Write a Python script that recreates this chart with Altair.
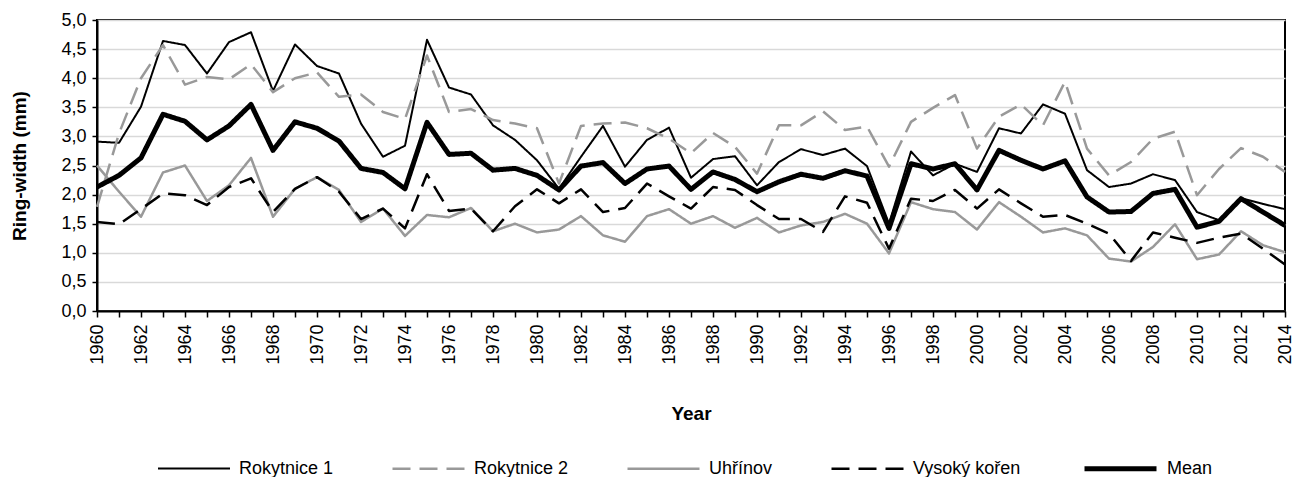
import altair as alt
import pandas as pd

years = list(range(1960, 2015))

rokytnice1 = [2.91, 2.89, 3.51, 4.64, 4.57, 4.08, 4.62, 4.79,
              3.78, 4.58, 4.21, 4.08, 3.22, 2.65, 2.84, 4.66,
              3.84, 3.72, 3.19, 2.94, 2.59, 2.10, 2.65, 3.18,
              2.48, 2.94, 3.15, 2.29, 2.61, 2.66, 2.16, 2.56,
              2.78, 2.68, 2.79, 2.49, 1.50, 2.74, 2.33, 2.53,
              2.39, 3.14, 3.05, 3.55, 3.39, 2.42, 2.13,
              2.19, 2.35, 2.25, 1.70, 1.56, 1.94, 1.84, 1.75]

rokytnice2 = [1.79, 3.05, 4.00, 4.57, 3.89, 4.02, 3.98, 4.24,
              3.76, 4.00, 4.10, 3.68, 3.72, 3.42, 3.30, 4.39,
              3.42, 3.47, 3.28, 3.22, 3.14, 2.19, 3.18, 3.22,
              3.24, 3.14, 2.96, 2.71, 3.06, 2.82, 2.36, 3.19,
              3.19, 3.43, 3.11, 3.17, 2.48, 3.25, 3.49, 3.71,
              2.79, 3.34, 3.55, 3.19, 3.94, 2.79, 2.33,
              2.56, 2.96, 3.08, 1.99, 2.44, 2.80, 2.65, 2.39]

uhrinov = [2.50, 2.05, 1.62, 2.38, 2.50, 1.89, 2.16, 2.63,
           1.62, 2.10, 2.30, 2.08, 1.53, 1.76, 1.29, 1.65,
           1.61, 1.77, 1.37, 1.50, 1.35, 1.40, 1.63, 1.30,
           1.19, 1.63, 1.75, 1.50, 1.63, 1.43, 1.60, 1.35,
           1.47, 1.53, 1.67, 1.50, 0.99, 1.87, 1.75, 1.70,
           1.40, 1.87, 1.62, 1.35, 1.42, 1.30, 0.90,
           0.85, 1.10, 1.49, 0.89, 0.97, 1.37, 1.13, 1.01]

vysoky_koren = [1.53, 1.49, 1.75, 2.02, 1.99, 1.82, 2.13, 2.28,
                1.70, 2.10, 2.30, 2.05, 1.58, 1.76, 1.42, 2.35,
                1.72, 1.76, 1.37, 1.80, 2.09, 1.85, 2.09, 1.70,
                1.77, 2.19, 1.97, 1.76, 2.13, 2.08, 1.82, 1.58,
                1.58, 1.36, 1.97, 1.86, 1.07, 1.93, 1.89, 2.08,
                1.76, 2.09, 1.85, 1.62, 1.65, 1.50, 1.33,
                0.86, 1.35, 1.26, 1.17, 1.26, 1.33, 1.07, 0.80]

mean = [2.13, 2.33, 2.63, 3.38, 3.26, 2.94, 3.18, 3.55,
        2.76, 3.25, 3.14, 2.92, 2.45, 2.38, 2.10, 3.24,
        2.69, 2.71, 2.42, 2.45, 2.33, 2.08, 2.49, 2.55,
        2.19, 2.44, 2.49, 2.09, 2.39, 2.26, 2.05, 2.22,
        2.35, 2.28, 2.41, 2.32, 1.42, 2.53, 2.44, 2.53,
        2.08, 2.76, 2.59, 2.44, 2.58, 1.96, 1.70,
        1.71, 2.02, 2.09, 1.44, 1.54, 1.93, 1.70, 1.47]

series_names = ["Rokytnice 1", "Rokytnice 2", "Uhřínov", "Vysoký kořen", "Mean"]
series_values = [rokytnice1, rokytnice2, uhrinov, vysoky_koren, mean]
series_colors = ["#000000", "#999999", "#999999", "#000000", "#000000"]
series_dashes = [[1, 0], [18, 9], [1, 0], [18, 9], [1, 0]]
series_widths = [2, 2.5, 2.5, 2.5, 5]

rows = []
for name, vals in zip(series_names, series_values):
    for yr, v in zip(years, vals):
        rows.append({"Year": yr, "value": v, "series": name})
df = pd.DataFrame(rows)

FONT = "Liberation Sans"

base = alt.Chart(df).mark_line(strokeJoin="round").encode(
    x=alt.X("Year:Q",
            scale=alt.Scale(domain=[1960, 2014], nice=False, zero=False),
            axis=alt.Axis(values=years, format="d", labelAngle=270,
                          labelExpr="datum.value % 2 === 0 ? datum.label : ''",
                          labelOverlap=False, grid=False, tickSize=6,
                          labelPadding=7, title="Year", titlePadding=40)),
    y=alt.Y("value:Q",
            scale=alt.Scale(domain=[0, 5], nice=False),
            axis=alt.Axis(values=[i * 0.5 for i in range(11)],
                          labelExpr="replace(format(datum.value, '.1f'), '.', ',')",
                          title="Ring-width (mm)", titlePadding=31, tickSize=5,
                          labelPadding=6, grid=True)),
    color=alt.Color("series:N",
                    scale=alt.Scale(domain=series_names, range=series_colors),
                    legend=alt.Legend(title=None)),
    strokeDash=alt.StrokeDash("series:N",
                              scale=alt.Scale(domain=series_names, range=series_dashes),
                              legend=alt.Legend(title=None)),
    strokeWidth=alt.StrokeWidth("series:N",
                                scale=alt.Scale(type="ordinal", domain=series_names,
                                                range=series_widths),
                                legend=alt.Legend(title=None)),
)

layers = [base.transform_filter(alt.datum.series == s) for s in series_names]

chart = alt.layer(*layers).properties(
    width=1188,
    height=291,
    autosize=alt.AutoSizeParams(type="none"),
    padding={"left": 89, "top": 12, "right": 15, "bottom": 166},
).configure_view(
    stroke="#000000", strokeWidth=2
).configure_axis(
    labelFont=FONT, titleFont=FONT, labelFontSize=18, titleFontSize=19,
    titleFontWeight="bold", labelColor="#000000", titleColor="#000000",
    domainColor="#000000", domainWidth=2, tickColor="#000000", tickWidth=1.5,
    gridColor="#d9d9d9", gridWidth=1.5
).configure_legend(
    orient="none", legendX=60, legendY=410, direction="horizontal",
    symbolType="stroke", symbolSize=5184, labelFont=FONT, labelFontSize=18,
    labelColor="#000000", labelOffset=8, columnPadding=53, symbolStrokeColor="#000000"
)

chart.save("out.html", embed_options={"renderer": "svg", "actions": False})
